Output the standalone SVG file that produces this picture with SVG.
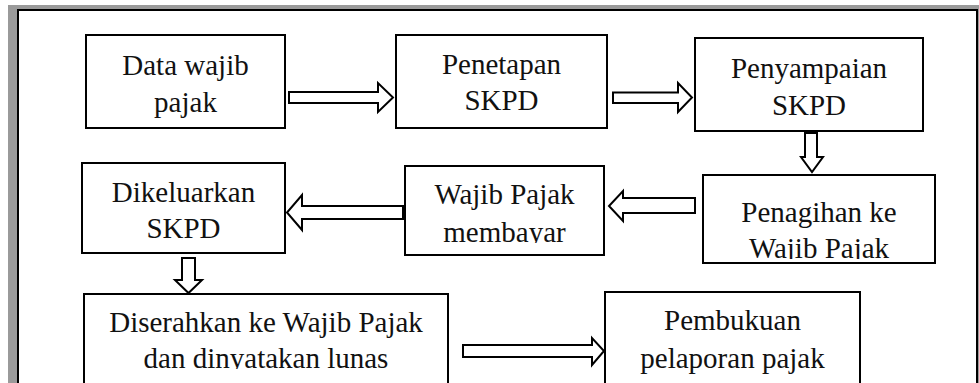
<svg xmlns="http://www.w3.org/2000/svg" width="979" height="383" viewBox="0 0 979 383">
<style>
.box{fill:#fff;stroke:#000;stroke-width:2}
.arr{fill:#fff;stroke:#000;stroke-width:2;stroke-linejoin:miter}
text{font-family:'Liberation Serif','Times New Roman','DejaVu Serif',serif;font-size:29px;fill:#111;text-anchor:middle}
</style>
<defs>
<clipPath id="c4"><rect x="703" y="175" width="232" height="84"/></clipPath>
<clipPath id="c5"><rect x="405" y="166" width="199" height="77"/></clipPath>
<clipPath id="c7"><rect x="84" y="294" width="364" height="75"/></clipPath>
</defs>
<rect x="8" y="5" width="971" height="378" fill="#9a9a9a"/>
<rect x="18" y="10" width="959" height="400" fill="#fff" stroke="#000" stroke-width="2"/>
<g id="connectors">
<polygon class="arr" points="289,92 378,92 378,83 393,97.5 378,112 378,103 289,103"/>
<polygon class="arr" points="613,92.5 678,92.5 678,83 692,97.5 678,112 678,103 613,103"/>
<polygon class="arr" points="805,133 817,133 817,157 823,157 812,172 801,157 805,157"/>
<polygon class="arr" points="695,198 623,198 623,191 609,206 623,221 623,213 695,213"/>
<polygon class="arr" points="403,206 302,206 302,195 287,212.5 302,230 302,219 403,219"/>
<polygon class="arr" points="182,258 195,258 195,280 202,280 188.5,293 175,280 182,280"/>
<polygon class="arr" points="463,345 592,345 592,338 604,351 592,365 592,357 463,357"/>
</g>
<g id="n1">
<rect class="box" x="86" y="35" width="199" height="93"/>
<text x="185.5" y="75">Data wajib</text>
<text x="185.5" y="112">pajak</text>
</g>
<g id="n2">
<rect class="box" x="396" y="35" width="211" height="93"/>
<text x="501.5" y="74">Penetapan</text>
<text x="501.5" y="110">SKPD</text>
</g>
<g id="n3">
<rect class="box" x="695" y="38" width="228" height="93"/>
<text x="809" y="78">Penyampaian</text>
<text x="809" y="115">SKPD</text>
</g>
<g id="n4">
<rect class="box" x="703" y="175" width="232" height="88"/>
<g clip-path="url(#c4)">
<text x="819" y="222">Penagihan ke</text>
<text x="819" y="258">Wajib Pajak</text>
</g>
</g>
<g id="n5">
<rect class="box" x="405" y="166" width="199" height="89"/>
<g clip-path="url(#c5)">
<text x="504.5" y="204">Wajib Pajak</text>
<text x="504.5" y="242">membayar</text>
</g>
</g>
<g id="n6">
<rect class="box" x="82" y="163" width="203" height="90"/>
<text x="183.5" y="202">Dikeluarkan</text>
<text x="183.5" y="238">SKPD</text>
</g>
<g id="n7">
<rect class="box" x="84" y="294" width="364" height="120"/>
<g clip-path="url(#c7)">
<text x="266" y="332">Diserahkan ke Wajib Pajak</text>
<text x="266" y="368">dan dinyatakan lunas</text>
</g>
</g>
<g id="n8">
<rect class="box" x="605" y="292" width="255" height="120"/>
<text x="732.5" y="330">Pembukuan</text>
<text x="732.5" y="368">pelaporan pajak</text>
</g>
</svg>
